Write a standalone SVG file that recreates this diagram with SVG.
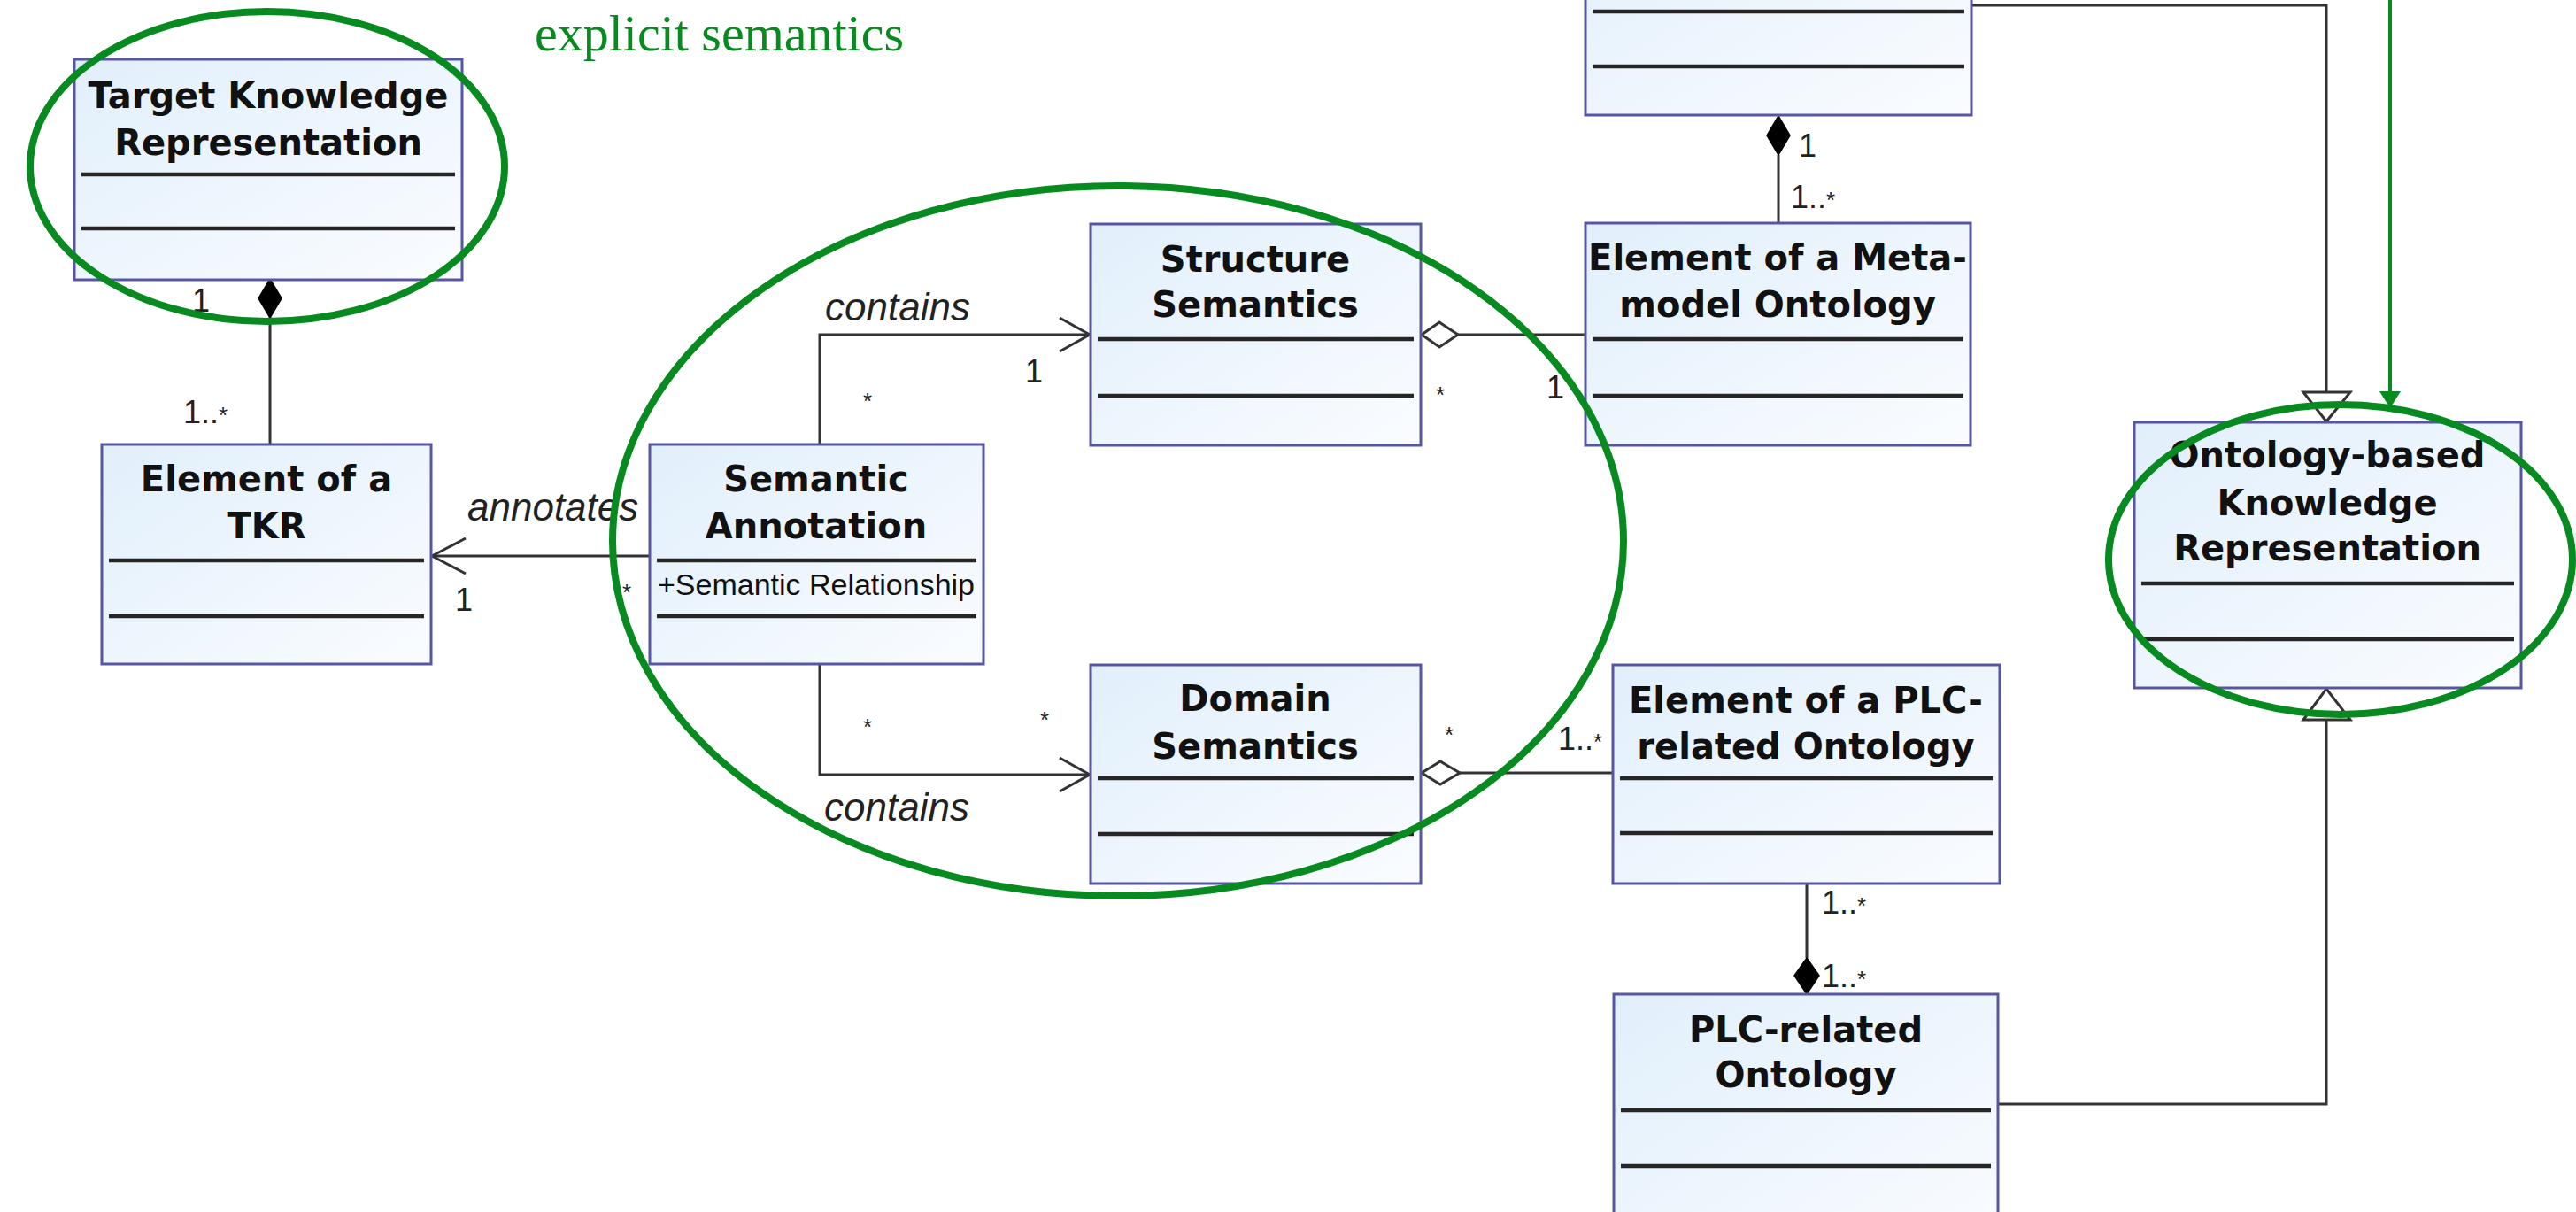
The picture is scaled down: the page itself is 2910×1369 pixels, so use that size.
<svg xmlns="http://www.w3.org/2000/svg" width="2910" height="1369" viewBox="0 0 2910 1369">
  <defs>
    <linearGradient id="boxfill" x1="0" y1="0" x2="1" y2="1">
      <stop offset="0" stop-color="#e1effb"/>
      <stop offset="1" stop-color="#fafcff"/>
    </linearGradient>
  </defs>
  <style>
    .box { fill: url(#boxfill); stroke: #5656a2; stroke-width: 3; }
    .sep { stroke: #262626; stroke-width: 4.5; }
    .name { font-family: "DejaVu Sans", sans-serif; font-weight: bold; font-size: 40px; fill: #111; text-anchor: middle; }
    .attr { font-family: "Liberation Sans", Arial, sans-serif; font-size: 34px; fill: #111; text-anchor: middle; }
    .conn { fill: none; stroke: #333; stroke-width: 3; }
    .hollow { fill: #fff; stroke: #333; stroke-width: 3; }
    .solid { fill: #000; stroke: #000; stroke-width: 1.5; }
    .role { font-family: "Liberation Sans", Arial, sans-serif; font-style: italic; font-size: 44px; fill: #222; }
    .mult { font-family: "Liberation Sans", Arial, sans-serif; font-size: 36px; fill: #222; }
    .star { font-family: "Liberation Sans", Arial, sans-serif; font-size: 26px; fill: #222; text-anchor: middle; }
    .sup { font-size: 26px; }
    .mark { fill: none; stroke: #078a1f; stroke-width: 8; }
    .note { font-family: "Liberation Serif", "Times New Roman", serif; font-size: 56px; fill: #078a1f; }
  </style>

  <rect width="2910" height="1369" fill="#fff"/>

  <!-- associations, aggregations, compositions and generalizations -->
  <g id="connectors">
    <!-- Target Knowledge Representation <#>- Element of a TKR -->
    <line class="conn" x1="305" y1="358" x2="305" y2="502"/>
    <polygon class="solid" points="305,315 318,337 305,359 292,337"/>
    <text class="mult" x="227" y="352" text-anchor="middle">1</text>
    <text class="mult" x="207" y="478">1..<tspan class="sup">*</tspan></text>

    <!-- annotates -->
    <line class="conn" x1="734" y1="628" x2="488" y2="628"/>
    <polyline class="conn" points="526,608 488,628 526,648"/>
    <text class="role" x="528" y="588">annotates</text>
    <text class="mult" x="524" y="690" text-anchor="middle">1</text>
    <text class="star" x="708" y="678">*</text>

    <!-- contains: Structure Semantics -->
    <polyline class="conn" points="926,502 926,378 1231,378"/>
    <polyline class="conn" points="1197,359 1231,378 1197,397"/>
    <text class="role" x="932" y="362">contains</text>
    <text class="mult" x="1168" y="432" text-anchor="middle">1</text>
    <text class="star" x="980" y="462">*</text>

    <!-- contains: Domain Semantics -->
    <polyline class="conn" points="926,750 926,875 1231,875"/>
    <polyline class="conn" points="1197,856 1231,875 1197,894"/>
    <text class="role" x="931" y="927">contains</text>
    <text class="star" x="980" y="830">*</text>
    <text class="star" x="1180" y="822">*</text>

    <!-- Structure Semantics <>- Element of a Meta-model Ontology -->
    <line class="conn" x1="1647" y1="378" x2="1791" y2="378"/>
    <polygon class="hollow" points="1606,378 1626,364 1647,378 1626,392"/>
    <text class="star" x="1627" y="455">*</text>
    <text class="mult" x="1757" y="450" text-anchor="middle">1</text>

    <!-- Domain Semantics <>- Element of a PLC-related Ontology -->
    <line class="conn" x1="1649" y1="873" x2="1822" y2="873"/>
    <polygon class="hollow" points="1606,873 1627,860 1649,873 1627,886"/>
    <text class="star" x="1637" y="839">*</text>
    <text class="mult" x="1760" y="847">1..<tspan class="sup">*</tspan></text>

    <!-- upper ontology <#>- Element of a Meta-model Ontology -->
    <line class="conn" x1="2009" y1="175" x2="2009" y2="252"/>
    <polygon class="solid" points="2009,131 2022,153 2009,175 1996,153"/>
    <text class="mult" x="2042" y="177" text-anchor="middle">1</text>
    <text class="mult" x="2023" y="235">1..<tspan class="sup">*</tspan></text>

    <!-- upper ontology generalizes to Ontology-based Knowledge Representation -->
    <polyline class="conn" points="2227,6 2628,6 2628,443"/>
    <polygon class="hollow" points="2602,443 2655,443 2628,476"/>

    <!-- Element of a PLC-related Ontology -<#> PLC-related Ontology -->
    <line class="conn" x1="2041" y1="998" x2="2041" y2="1082"/>
    <polygon class="solid" points="2041,1082 2055,1102 2041,1123 2027,1102"/>
    <text class="mult" x="2058" y="1032">1..<tspan class="sup">*</tspan></text>
    <text class="mult" x="2058" y="1115">1..<tspan class="sup">*</tspan></text>

    <!-- PLC-related Ontology generalizes to Ontology-based Knowledge Representation -->
    <polyline class="conn" points="2257,1247 2628,1247 2628,813"/>
    <polygon class="hollow" points="2602,813 2655,813 2628,778"/>
  </g>

  <!-- classes -->
  <g id="target-knowledge-representation">
    <rect class="box" x="84" y="67" width="438" height="249"/>
    <line class="sep" x1="92" y1="197" x2="514" y2="197"/>
    <line class="sep" x1="92" y1="258" x2="514" y2="258"/>
    <text class="name" x="303" y="122">Target Knowledge</text>
    <text class="name" x="303" y="175">Representation</text>
  </g>

  <g id="element-of-a-tkr">
    <rect class="box" x="115" y="502" width="372" height="248"/>
    <line class="sep" x1="123" y1="633" x2="479" y2="633"/>
    <line class="sep" x1="123" y1="696" x2="479" y2="696"/>
    <text class="name" x="301" y="555">Element of a</text>
    <text class="name" x="301" y="608">TKR</text>
  </g>

  <g id="semantic-annotation">
    <rect class="box" x="734" y="502" width="377" height="248"/>
    <line class="sep" x1="742" y1="633" x2="1103" y2="633"/>
    <line class="sep" x1="742" y1="696" x2="1103" y2="696"/>
    <text class="name" x="922" y="555">Semantic</text>
    <text class="name" x="922" y="608">Annotation</text>
    <text class="attr" x="922" y="672" textLength="358" lengthAdjust="spacingAndGlyphs">+Semantic Relationship</text>
  </g>

  <g id="structure-semantics">
    <rect class="box" x="1232" y="253" width="373" height="250"/>
    <line class="sep" x1="1240" y1="383" x2="1597" y2="383"/>
    <line class="sep" x1="1240" y1="447" x2="1597" y2="447"/>
    <text class="name" x="1418" y="307">Structure</text>
    <text class="name" x="1418" y="358">Semantics</text>
  </g>

  <g id="meta-model-ontology">
    <rect class="box" x="1791" y="-120" width="436" height="250"/>
    <line class="sep" x1="1799" y1="13" x2="2219" y2="13"/>
    <line class="sep" x1="1799" y1="75" x2="2219" y2="75"/>
  </g>

  <g id="element-of-a-meta-model-ontology">
    <rect class="box" x="1791" y="252" width="435" height="251"/>
    <line class="sep" x1="1799" y1="383" x2="2218" y2="383"/>
    <line class="sep" x1="1799" y1="447" x2="2218" y2="447"/>
    <text class="name" x="2008" y="305">Element of a Meta-</text>
    <text class="name" x="2008" y="358">model Ontology</text>
  </g>

  <g id="domain-semantics">
    <rect class="box" x="1232" y="751" width="373" height="247"/>
    <line class="sep" x1="1240" y1="879" x2="1597" y2="879"/>
    <line class="sep" x1="1240" y1="942" x2="1597" y2="942"/>
    <text class="name" x="1418" y="803">Domain</text>
    <text class="name" x="1418" y="857">Semantics</text>
  </g>

  <g id="element-of-a-plc-related-ontology">
    <rect class="box" x="1822" y="751" width="437" height="247"/>
    <line class="sep" x1="1830" y1="879" x2="2251" y2="879"/>
    <line class="sep" x1="1830" y1="941" x2="2251" y2="941"/>
    <text class="name" x="2040" y="805">Element of a PLC-</text>
    <text class="name" x="2040" y="857">related Ontology</text>
  </g>

  <g id="plc-related-ontology">
    <rect class="box" x="1823" y="1123" width="434" height="290"/>
    <line class="sep" x1="1831" y1="1254" x2="2249" y2="1254"/>
    <line class="sep" x1="1831" y1="1317" x2="2249" y2="1317"/>
    <text class="name" x="2040" y="1177">PLC-related</text>
    <text class="name" x="2040" y="1228">Ontology</text>
  </g>

  <g id="ontology-based-knowledge-representation">
    <rect class="box" x="2411" y="477" width="437" height="300"/>
    <line class="sep" x1="2419" y1="659" x2="2840" y2="659"/>
    <line class="sep" x1="2419" y1="722" x2="2840" y2="722"/>
    <text class="name" x="2629" y="528">Ontology-based</text>
    <text class="name" x="2629" y="582">Knowledge</text>
    <text class="name" x="2629" y="633">Representation</text>
  </g>

  <!-- green highlights -->
  <g id="highlights">
    <text class="note" x="604" y="57" textLength="417" lengthAdjust="spacingAndGlyphs">explicit semantics</text>
    <ellipse class="mark" cx="302" cy="188" rx="268" ry="175"/>
    <ellipse class="mark" cx="1263" cy="611" rx="571" ry="401"/>
    <ellipse class="mark" cx="2644" cy="632" rx="262" ry="175"/>
    <line x1="2700" y1="0" x2="2700" y2="444" stroke="#078a1f" stroke-width="4"/>
    <polygon points="2688,442 2712,442 2700,461" fill="#078a1f"/>
  </g>
</svg>
